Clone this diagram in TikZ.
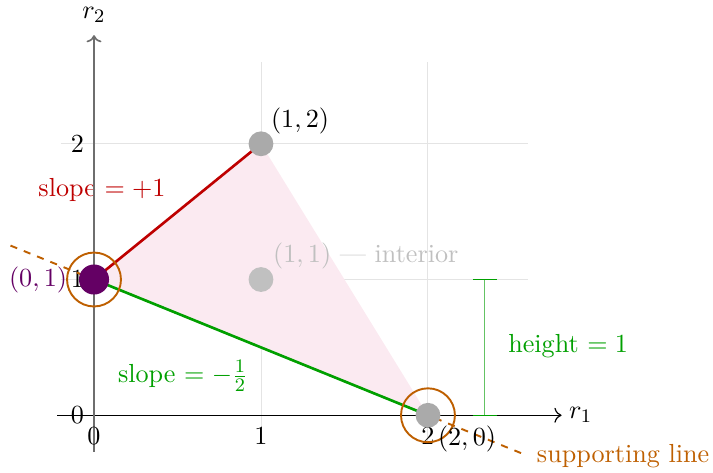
\documentclass[tikz,border=0pt,11pt]{standalone}
\usetikzlibrary{arrows.meta}
\definecolor{fillpink}{RGB}{251,234,241}
\definecolor{redl}{RGB}{190,0,0}
\definecolor{greenl}{RGB}{0,160,0}
\definecolor{greenlt}{RGB}{100,195,100}
\definecolor{purp}{RGB}{100,0,100}
\definecolor{orng}{RGB}{190,95,0}
\definecolor{gdot}{RGB}{170,170,170}
\definecolor{gdotlt}{RGB}{192,192,192}
\definecolor{gridc}{RGB}{228,228,228}
\definecolor{yaxc}{RGB}{110,110,110}
\tikzset{
  dotg/.style={circle,fill=gdot,inner sep=0pt,minimum size=10.4pt},
  dotlt/.style={circle,fill=gdotlt,inner sep=0pt,minimum size=10.4pt},
  dotp/.style={circle,fill=purp,inner sep=0pt,minimum size=12.6pt},
  ring/.style={circle,draw=orng,line width=0.8pt,inner sep=0pt,minimum size=22.6pt},
  lbl/.style={inner sep=0pt},
}
\begin{document}
\begin{tikzpicture}[x=2.46cm,y=2cm]
\useasboundingbox (-0.563,-0.419) rectangle (3.707,3.059);
% grid
\draw[gridc,line width=0.4pt,step={(1,1)}] (-0.2,-0.2) grid (2.6,2.6);
% triangle fill
\fill[fillpink] (0,1) -- (1,2) -- (2,0) -- cycle;
% slope labels
\node[lbl,redl] (s1) at (0.048,1.66) {slope $=+1$};
\node[lbl,greenl] (s2) at (0.533,0.29) {slope $=-\frac{1}{2}$};
% axes
\draw[-{To[length=3pt]},line width=0.5pt] (-0.22,0) -- (2.8,0) coordinate (xend);
\draw[-{To[length=3pt]},yaxc,line width=0.7pt] (0,-0.27) -- (0,2.8) coordinate (yend);
\node[lbl,anchor=west] (r1) at ([xshift=3pt]xend) {$r_1$};
\node[lbl,anchor=south] (r2) at ([yshift=5pt]yend) {$r_2$};
% tick labels
\node[lbl] (ty0) at (-0.10,0) {$0$};
\node[lbl] (ty1) at (-0.10,1) {$1$};
\node[lbl] (ty2) at (-0.10,2) {$2$};
\node[lbl] (tx0) at (0,-0.155) {$0$};
\node[lbl] (tx1) at (1,-0.155) {$1$};
\node[lbl] (tx2) at (2,-0.155) {$2$};
% coordinates
\coordinate (A) at (0,1);
\coordinate (B) at (1,2);
\coordinate (C) at (2,0);
\coordinate (D) at (1,1);
% supporting line
\coordinate (sl1) at (-0.5,1.25);
\coordinate (sl2) at (2.56,-0.28);
\draw[orng,dashed,line width=0.8pt] (sl1) -- (sl2);
\node[lbl,orng,anchor=west] (sltext) at (2.65,-0.30) {supporting line};
% edges
\draw[redl,line width=1.1pt] (A) -- (B);
\draw[greenl,line width=1.1pt] (A) -- (C);
% height bracket
\coordinate (h0) at (2.34,0);
\coordinate (h1) at (2.34,1);
\draw[greenlt,line width=0.6pt] (h0) -- (h1);
\draw[greenl,line width=0.6pt] ([xshift=-5pt]h0) -- ([xshift=5pt]h0);
\draw[greenl,line width=0.6pt] ([xshift=-5pt]h1) -- ([xshift=5pt]h1);
\node[lbl,greenl] (htext) at (2.84,0.507) {height $=1$};
% points
\node[dotg] (pB) at (B) {};
\node[dotlt] (pD) at (D) {};
\node[dotg] (pC) at (C) {};
\node[dotp] (pA) at (A) {};
\node[ring] (rA) at (A) {};
\node[ring] (rC) at (C) {};
% point labels
\node[lbl] (lB) at (1.234,2.17) {$(1,2)$};
\node[lbl,gdotlt,anchor=west] (lD) at (1.07,1.176) {$(1,1)$ --- interior};
\node[lbl,purp] (lA) at (-0.335,1.0) {$(0,1)$};
\node[lbl] (lC) at (2.234,-0.176) {$(2,0)$};
\end{tikzpicture}
\end{document}
